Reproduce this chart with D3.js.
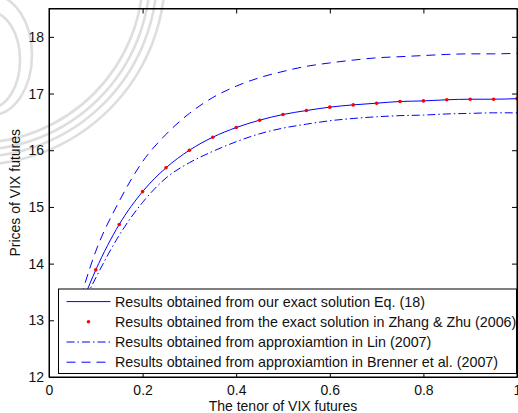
<!DOCTYPE html>
<html lang="en">
<head>
  <meta charset="UTF-8">
  <title>Prices of VIX futures</title>
  <script src="https://d3js.org/d3.v7.min.js"></script>
  <style>
    body {
      margin: 0;
      background: #fff;
      font-family: "Liberation Sans", Arial, sans-serif;
    }
    svg text {
      font-size: 14px;
      fill: #111;
    }
  </style>
</head>
<body>
  <svg id="chart" width="518" height="413"></svg>

  <script>
    // values
    const tenor = [0.05, 0.1, 0.15, 0.2, 0.25, 0.3, 0.35, 0.4, 0.45, 0.5,
                   0.55, 0.6, 0.65, 0.7, 0.75, 0.8, 0.85, 0.9, 0.95, 1.0];
    const exact = [12.85, 13.89, 14.69, 15.27, 15.69, 16.00, 16.23, 16.40, 16.53, 16.63,
                   16.70, 16.76, 16.80, 16.83, 16.86, 16.87, 16.89, 16.90, 16.90, 16.91];
    const zhangZhu = exact; // dots sit on the exact curve
    const lin = [12.90, 13.75, 14.50, 15.08, 15.51, 15.78, 15.98, 16.15, 16.29, 16.39,
                 16.46, 16.52, 16.56, 16.59, 16.61, 16.62, 16.64, 16.65, 16.66, 16.66];
    const brenner = [12.90, 14.22, 15.10, 15.80, 16.28, 16.65, 16.93, 17.13, 17.28, 17.39,
                     17.48, 17.54, 17.59, 17.63, 17.65, 17.67, 17.69, 17.70, 17.70, 17.71];

    const xTicks = [0, 0.2, 0.4, 0.6, 0.8, 1];
    const yTicks = [12, 13, 14, 15, 16, 17, 18];

    const legendLabels = [
      "Results obtained from our exact solution Eq. (18)",
      "Results obtained from the exact solution in Zhang & Zhu (2006)",
      "Results obtained from approxiamtion in Lin (2007)",
      "Results obtained from approxiamtion in Brenner et al. (2007)"
    ];

    const svg = d3.select("#chart");
    const width = 518, height = 413;
    const margin = { top: 8.5, right: 1, bottom: 36, left: 49 };
    const W = width - margin.left - margin.right;
    const H = height - margin.top - margin.bottom;

    // faint watermark swirl from the scanned page
    const wm = svg.append("g").attr("fill", "none").attr("stroke", "#dedede").attr("stroke-width", 2.6);
    [168, 175, 182, 190].forEach(r => {
      wm.append("circle").attr("cx", -25).attr("cy", -25).attr("r", r);
    });
    wm.append("ellipse").attr("cx", -8).attr("cy", 55).attr("rx", 40).attr("ry", 60);
    wm.append("ellipse").attr("cx", -10).attr("cy", 60).attr("rx", 30).attr("ry", 48);

    const x = d3.scaleLinear().domain([0, 1]).range([0, W]);
    const y = d3.scaleLinear().domain([12, 18.5]).range([H, 0]);

    const g = svg.append("g").attr("transform", `translate(${margin.left},${margin.top})`);

    g.append("clipPath").attr("id", "clip")
      .append("rect").attr("width", W).attr("height", H);

    const line = d3.line()
      .x((d, i) => x(tenor[i]))
      .y(d => y(d))
      .curve(d3.curveMonotoneX);

    const series = [
      { values: exact, dash: null },
      { values: lin, dash: "8,3,1.5,3" },
      { values: brenner, dash: "9,6" }
    ];

    const plot = g.append("g").attr("clip-path", "url(#clip)");
    series.forEach(s => {
      plot.append("path")
        .attr("d", line(s.values))
        .attr("fill", "none")
        .attr("stroke", "#0000ff")
        .attr("stroke-width", 1)
        .attr("stroke-dasharray", s.dash);
    });

    plot.selectAll("circle.dot")
      .data(zhangZhu)
      .join("circle")
        .attr("class", "dot")
        .attr("cx", (d, i) => x(tenor[i]))
        .attr("cy", d => y(d))
        .attr("r", 1.8)
        .attr("fill", "#ff0000");

    // axes, ticks inside on all four sides
    const tick = 5;
    const fmtX = d => d === 0 || d === 1 ? d3.format("d")(d) : d3.format(".1f")(d);
    g.append("g").attr("transform", `translate(0,${H})`)
      .call(d3.axisBottom(x).tickValues(xTicks).tickSizeInner(-tick).tickSizeOuter(0).tickPadding(8)
        .tickFormat(fmtX));
    g.append("g")
      .call(d3.axisTop(x).tickValues(xTicks).tickSizeInner(-tick).tickSizeOuter(0).tickFormat(""));
    g.append("g")
      .call(d3.axisLeft(y).tickValues(yTicks).tickSizeInner(-tick).tickSizeOuter(0).tickPadding(5)
        .tickFormat(d3.format("d")));
    g.append("g").attr("transform", `translate(${W},0)`)
      .call(d3.axisRight(y).tickValues(yTicks).tickSizeInner(-tick).tickSizeOuter(0).tickFormat(""));

    g.selectAll(".domain").attr("stroke", "#000").attr("stroke-width", 1);
    g.selectAll(".tick line").attr("stroke", "#000");
    g.selectAll(".tick text").attr("font-size", 14).attr("font-family", "Liberation Sans, Arial, sans-serif").attr("fill", "#111");

    g.append("rect")
      .attr("width", W).attr("height", H)
      .attr("fill", "none").attr("stroke", "#000").attr("stroke-width", 1);

    // axis titles
    svg.append("text")
      .attr("x", margin.left + W / 2)
      .attr("y", 410.5)
      .attr("text-anchor", "middle")
      .text("The tenor of VIX futures");

    svg.append("text")
      .attr("transform", `translate(20,${margin.top + H / 2}) rotate(-90)`)
      .attr("text-anchor", "middle")
      .text("Prices of VIX futures");

    // legend
    const lg = svg.append("g").attr("transform", "translate(58.5,289)");
    lg.append("rect")
      .attr("width", 458).attr("height", 84.5)
      .attr("fill", "#fff").attr("stroke", "#000").attr("stroke-width", 1);

    const rowY = i => 12.6 + i * 20.2;
    const styles = [
      { dash: null, line: true },
      { dot: true },
      { dash: "8,3,1.5,3", line: true },
      { dash: "9,6", line: true }
    ];
    legendLabels.forEach((label, i) => {
      const st = styles[i];
      if (st.line) {
        lg.append("line")
          .attr("x1", 8).attr("x2", 52)
          .attr("y1", rowY(i)).attr("y2", rowY(i))
          .attr("stroke", "#0000ff").attr("stroke-width", 1)
          .attr("stroke-dasharray", st.dash);
      }
      if (st.dot) {
        lg.append("circle")
          .attr("cx", 30).attr("cy", rowY(i)).attr("r", 1.8)
          .attr("fill", "#ff0000");
      }
      lg.append("text")
        .attr("x", 56.5)
        .attr("y", rowY(i) + 5)
        .style("font-size", "14.3px")
        .text(label);
    });
  </script>
</body>
</html>
